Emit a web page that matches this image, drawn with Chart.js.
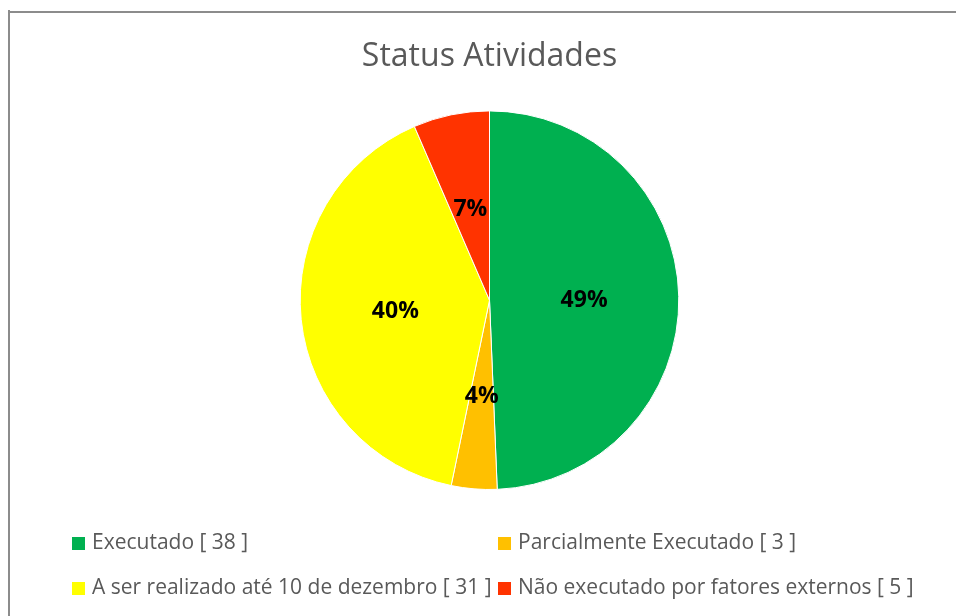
<!DOCTYPE html>
<html>
<head>
<meta charset="utf-8">
<script src="https://cdn.jsdelivr.net/npm/chart.js@4/dist/chart.umd.min.js"></script>
<style>
  html, body { margin: 0; padding: 0; background: #fff; }
  #wrap { width: 956px; height: 616px; position: relative; }
</style>
</head>
<body>
<div id="wrap"><canvas id="statusChart"></canvas></div>
<script>
// data
const categories = ['Executado', 'Parcialmente Executado', 'A ser realizado até 10 de dezembro', 'Não executado por fatores externos'];
const counts = [38, 3, 31, 5];
const percentLabels = ['49%', '4%', '40%', '7%'];
const sliceColors = ['#00B050', '#FFC000', '#FFFF00', '#FF3300'];

const textGray = '#595959';
const fontFamily = '"Open Sans", "Noto Sans", sans-serif';

// frame around the chart (only top + left are visible in the crop)
const framePlugin = {
    id: 'frame',
    beforeDraw(chart) {
        const ctx = chart.ctx;
        ctx.save();
        ctx.fillStyle = '#8c8c8c';
        ctx.fillRect(8, 10, 2, chart.height);
        ctx.fillRect(8, 11, chart.width, 2);
        ctx.restore();
    }
};

// percentage labels in the middle of each slice
const sliceLabels = {
    id: 'sliceLabels',
    afterDatasetsDraw(chart) {
        const ctx = chart.ctx;
        const meta = chart.getDatasetMeta(0);
        ctx.save();
        ctx.font = 'bold 23px ' + fontFamily;
        ctx.fillStyle = '#000';
        ctx.textAlign = 'center';
        ctx.textBaseline = 'middle';
        meta.data.forEach((arc, i) => {
            const p = arc.tooltipPosition();
            ctx.fillText(percentLabels[i], p.x, p.y + 2);
        });
        ctx.restore();
    }
};

// two column legend, like the excel one
const gridLegend = {
    id: 'gridLegend',
    afterDraw(chart) {
        const ctx = chart.ctx;
        const colX = [72, 498];
        const rowY = [543, 588];
        const colors = chart.data.datasets[0].backgroundColor;
        ctx.save();
        ctx.font = '21px ' + fontFamily;
        ctx.textBaseline = 'middle';
        ctx.textAlign = 'left';
        chart.data.labels.forEach((lbl, i) => {
            const x = colX[i % 2];
            const y = rowY[Math.floor(i / 2)];
            ctx.fillStyle = colors[i];
            ctx.fillRect(x, y - 6, 13, 13);
            ctx.fillStyle = textGray;
            ctx.fillText(lbl, x + 20, y);
        });
        ctx.restore();
    }
};

new Chart(document.getElementById('statusChart'), {
    type: 'pie',
    data: {
        labels: categories.map((c, i) => c + ' [ ' + counts[i] + ' ]'),
        datasets: [{
            data: counts,
            backgroundColor: sliceColors,
            borderColor: '#ffffff',
            borderWidth: 1
        }]
    },
    options: {
        responsive: true,
        maintainAspectRatio: false,
        animation: false,
        layout: { padding: { top: 20, bottom: 126, left: 23, right: 0 } },
        plugins: {
            legend: { display: false },
            tooltip: { enabled: false },
            title: {
                display: true,
                text: 'Status Atividades',
                color: textGray,
                font: { family: fontFamily, size: 32, weight: 'normal' },
                padding: { top: 18, bottom: 34 }
            }
        }
    },
    plugins: [framePlugin, sliceLabels, gridLegend]
});
</script>
</body>
</html>
